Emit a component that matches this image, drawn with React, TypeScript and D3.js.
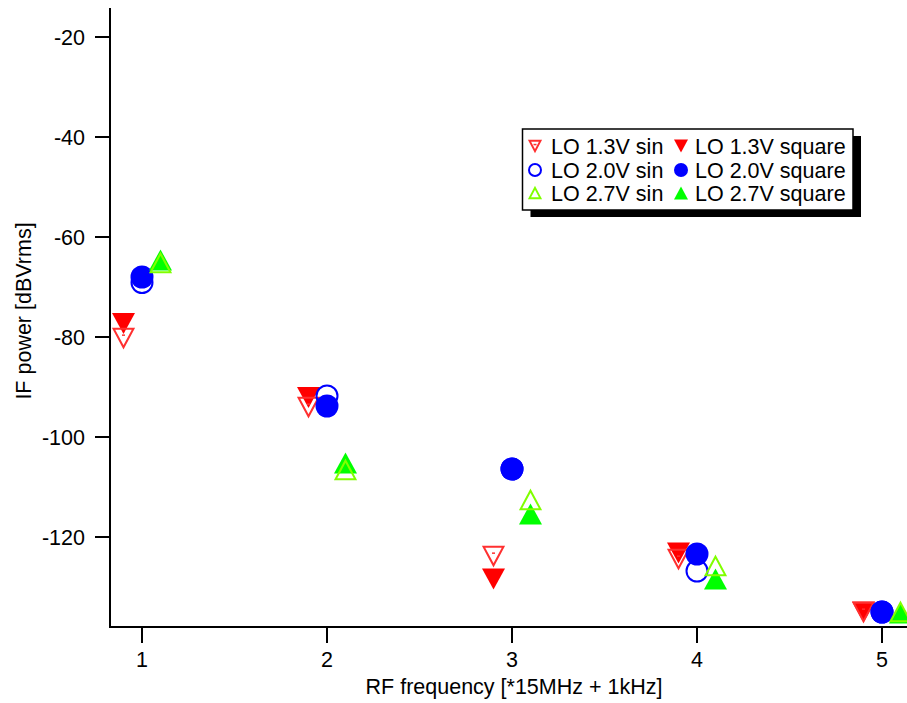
import React from "react";
import * as d3 from "d3";

const categories = [1, 2, 3, 4, 5];
const sin13 = [-80.2, -94.0, -123.8, -124.4, -135.0];
const sq13 = [-77.3, -92.1, -128.4, -123.2, -135.0];
const sin20 = [-69.1, -91.8, -106.4, -126.8, -135.0];
const sq20 = [-68.0, -93.8, -106.4, -123.4, -135.0];
const sin27 = [-65.2, -106.6, -112.6, -125.8, -135.0];
const sq27 = [-64.6, -105.2, -115.4, -128.4, -135.2];
const yTicks = [-20, -40, -60, -80, -100, -120];
const xTicks = [1, 2, 3, 4, 5];

type Shape = "down" | "circle" | "up";
interface Series {
  name: string;
  values: number[];
  offset: number;
  shape: Shape;
  filled: boolean;
  color: string;
}

const series: Series[] = [
  { name: "LO 1.3V square", values: sq13, offset: -0.1, shape: "down", filled: true, color: "#ff0000" },
  { name: "LO 1.3V sin", values: sin13, offset: -0.1, shape: "down", filled: false, color: "#ff3030" },
  { name: "LO 2.0V sin", values: sin20, offset: 0, shape: "circle", filled: false, color: "#0000ff" },
  { name: "LO 2.0V square", values: sq20, offset: 0, shape: "circle", filled: true, color: "#0000ff" },
  { name: "LO 2.7V square", values: sq27, offset: 0.1, shape: "up", filled: true, color: "#00ff00" },
  { name: "LO 2.7V sin", values: sin27, offset: 0.1, shape: "up", filled: false, color: "#80ff00" },
];

const legendCols: string[][] = [
  ["LO 1.3V sin", "LO 2.0V sin", "LO 2.7V sin"],
  ["LO 1.3V square", "LO 2.0V square", "LO 2.7V square"],
];

const FONT = "'Liberation Sans', Arial, Helvetica, sans-serif";

function Marker({ cx, cy, s, size }: { cx: number; cy: number; s: Series; size: number }) {
  const sw = 2;
  if (s.shape === "circle") {
    const r = s.filled ? size / 2 : size / 2 - sw / 2;
    return s.filled ? (
      <circle cx={cx} cy={cy} r={r} fill={s.color} />
    ) : (
      <circle cx={cx} cy={cy} r={r} fill="none" stroke={s.color} strokeWidth={sw} />
    );
  }
  const w = size;
  const h = size * 0.92;
  const inset = s.filled ? 0 : sw / 2 + 0.3;
  const hw = w / 2 - inset * 1.2;
  const hh = h / 2 - inset;
  let pts: [number, number][];
  if (s.shape === "down") {
    pts = [
      [cx - hw, cy - hh],
      [cx + hw, cy - hh],
      [cx, cy + hh],
    ];
  } else {
    pts = [
      [cx, cy - hh],
      [cx + hw, cy + hh],
      [cx - hw, cy + hh],
    ];
  }
  const d = "M" + pts.map((p) => p.join(",")).join("L") + "Z";
  return (
    <g>
      {s.filled ? (
        <path d={d} fill={s.color} />
      ) : (
        <path d={d} fill="none" stroke={s.color} strokeWidth={sw} strokeLinejoin="miter" />
      )}
      {!s.filled && s.shape === "down" ? (
        <rect x={cx - 1.5} y={cy - h * 0.17} width={3} height={1.5} fill={s.color} />
      ) : null}
    </g>
  );
}

export default function App() {
  const W = 907;
  const H = 703;
  const left = 110;
  const bottom = 627;
  const top = 8;
  const x = d3.scaleLinear().domain([1, 5]).range([142, 882]);
  const y = d3.scaleLinear().domain([-20, -120]).range([37, 537]);
  const fs = 21.5;
  const byName = (n: string) => series.find((s) => s.name === n)!;

  const legX = 522.5;
  const legY = 129;
  const legW = 330.5;
  const legH = 81;
  const rowY = [146, 170, 193];
  const markX = [535, 681];
  const textX = [551, 695];

  return (
    <svg
      width={W}
      height={H}
      style={{ position: "absolute", left: 0, top: 0, background: "#fff" }}
      fontFamily={FONT}
    >
      <rect x={0} y={0} width={W} height={H} fill="#fff" />
      {/* axes */}
      <line x1={left} y1={top} x2={left} y2={bottom + 1} stroke="#000" strokeWidth={2} />
      <line x1={left - 1} y1={bottom} x2={W} y2={bottom} stroke="#000" strokeWidth={2} />
      {yTicks.map((t) => (
        <g key={"y" + t}>
          <line x1={left - 15} x2={left} y1={y(t)} y2={y(t)} stroke="#000" strokeWidth={2} />
          <text x={85} y={y(t) + 7.5} fontSize={fs} textAnchor="end" fill="#000">
            {t}
          </text>
        </g>
      ))}
      {xTicks.map((t) => (
        <g key={"x" + t}>
          <line x1={x(t)} x2={x(t)} y1={bottom} y2={bottom + 16} stroke="#000" strokeWidth={2} />
          <text x={x(t)} y={667} fontSize={fs} textAnchor="middle" fill="#000">
            {t}
          </text>
        </g>
      ))}
      <text x={514} y={694} fontSize={fs} textAnchor="middle" fill="#000">
        RF frequency [*15MHz + 1kHz]
      </text>
      <text
        transform={`translate(31,311) rotate(-90)`}
        fontSize={fs}
        textAnchor="middle"
        fill="#000"
      >
        IF power [dBVrms]
      </text>
      {/* data */}
      {series.map((s) => (
        <g key={s.name}>
          {s.values.map((v, i) => (
            <Marker key={i} cx={x(categories[i] + s.offset)} cy={y(v)} s={s} size={23} />
          ))}
        </g>
      ))}
      {/* legend */}
      <rect x={legX + 8} y={legY + 7} width={legW} height={legH} fill="#000" />
      <rect x={legX} y={legY} width={legW} height={legH} fill="#fff" stroke="#000" strokeWidth={1.5} />
      {legendCols.map((col, ci) =>
        col.map((n, ri) => {
          const s = byName(n);
          return (
            <g key={n}>
              <Marker cx={markX[ci]} cy={rowY[ri]} s={s} size={14} />
              <text x={textX[ci]} y={rowY[ri] + 7.5} fontSize={fs} fill="#000">
                {n}
              </text>
            </g>
          );
        })
      )}
    </svg>
  );
}
